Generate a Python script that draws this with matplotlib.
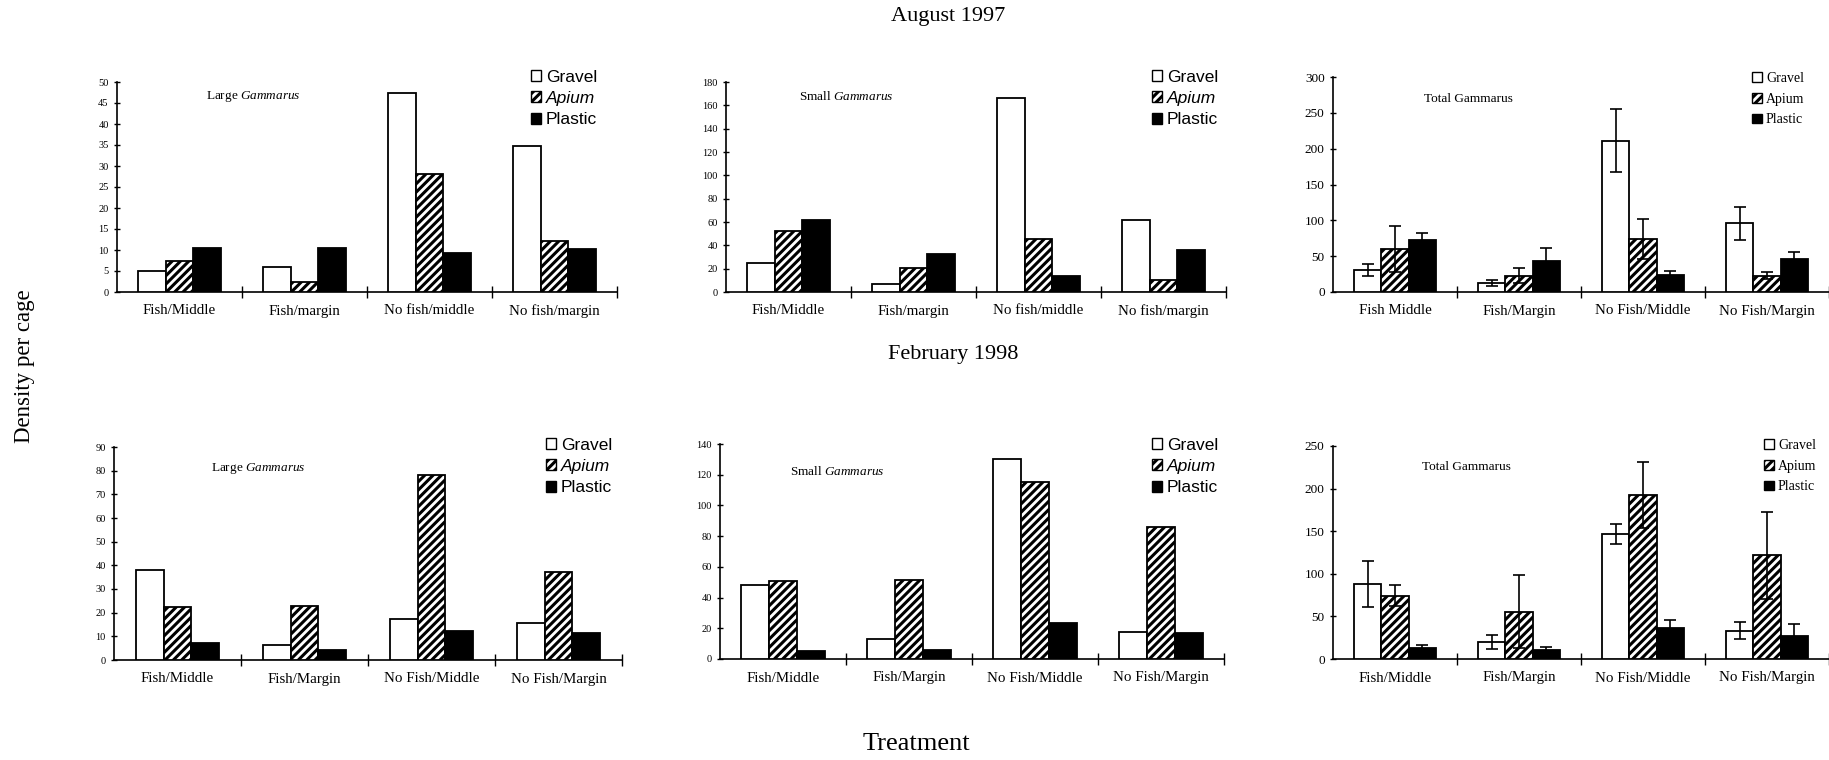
import matplotlib
matplotlib.use("Agg")
import matplotlib.pyplot as plt
from matplotlib.patches import Patch
import numpy as np

plt.rcParams['font.family'] = ['Liberation Serif', 'DejaVu Serif']
plt.rcParams['mathtext.fontset'] = 'custom'
plt.rcParams['mathtext.rm'] = 'Liberation Serif'
plt.rcParams['mathtext.it'] = 'Liberation Serif:italic'
plt.rcParams['hatch.linewidth'] = 2.2

# ---------------- data ----------------
series = ["Gravel", "Apium", "Plastic"]

cats_aug_lm = ["Fish/Middle", "Fish/margin", "No fish/middle", "No fish/margin"]
cats_aug_total = ["Fish Middle", "Fish/Margin", "No Fish/Middle", "No Fish/Margin"]
cats_feb = ["Fish/Middle", "Fish/Margin", "No Fish/Middle", "No Fish/Margin"]

# August 1997 - Large Gammarus
aug_large_gravel = [5.0, 6.0, 47.5, 34.7]
aug_large_apium = [7.5, 2.5, 28.0, 12.2]
aug_large_plastic = [10.5, 10.5, 9.2, 10.2]

# August 1997 - Small Gammarus
aug_small_gravel = [25, 6.5, 166, 61.5]
aug_small_apium = [52, 21, 45.5, 10.5]
aug_small_plastic = [61.5, 32.5, 13.5, 36]

# August 1997 - Total Gammarus (mean, error)
aug_total_gravel = [30.5, 13, 211, 96]
aug_total_apium = [60, 23, 74, 22.5]
aug_total_plastic = [72, 43, 23.5, 45.5]
aug_total_gravel_err = [8.5, 4, 44, 23]
aug_total_apium_err = [32, 10, 28, 5]
aug_total_plastic_err = [11, 19, 6, 10.5]

# February 1998 - Large Gammarus
feb_large_gravel = [38, 6.3, 17.3, 15.7]
feb_large_apium = [22.5, 22.8, 78, 37]
feb_large_plastic = [7.0, 4.2, 12.3, 11.2]

# February 1998 - Small Gammarus
feb_small_gravel = [48.5, 13, 130, 17.5]
feb_small_apium = [51, 51.5, 115, 86]
feb_small_plastic = [5.5, 5.8, 23.5, 17]

# February 1998 - Total Gammarus (mean, error)
feb_total_gravel = [88, 20, 147, 33]
feb_total_apium = [74.5, 55.5, 192.5, 121.5]
feb_total_plastic = [13, 10, 36, 26.5]
feb_total_gravel_err = [26.5, 8, 12, 10]
feb_total_apium_err = [12, 43, 39, 51]
feb_total_plastic_err = [3.5, 4.5, 9.5, 15]

# ---------------- figure ----------------
W, H = 1829, 760
fig = plt.figure(figsize=(W / 100, H / 100), dpi=100)


def add_ax(left, right, top, bottom):
    return fig.add_axes([left / W, 1 - bottom / H, (right - left) / W, (bottom - top) / H])


def panel(ax, cats, vals, errs, ymax, ystep, title, title_xy, legend_xy, total):
    x = np.arange(len(cats))
    bw = 0.22
    styles = [dict(facecolor='white', hatch=None),
              dict(facecolor='white', hatch='////'),
              dict(facecolor='black', hatch=None)]
    for i, (v, st) in enumerate(zip(vals, styles)):
        kw = dict(edgecolor='black', linewidth=1.3, zorder=3, **st)
        ax.bar(x + (i - 1) * bw, v, bw, **kw)
        if errs is not None:
            ax.errorbar(x + (i - 1) * bw, v, yerr=errs[i], fmt='none',
                        ecolor='black', elinewidth=1.2, capsize=4, capthick=1.2, zorder=4)
    ax.set_xlim(-0.5, 3.5)
    ax.set_ylim(0, ymax)
    ax.set_yticks(np.arange(0, ymax + 0.1, ystep))
    ax.set_xticks([0.5, 1.5, 2.5, 3.5])
    ax.set_xticklabels([])
    ax.set_xticks(x, minor=True)
    ax.set_xticklabels(cats, minor=True, fontsize=10.8)
    ax.tick_params(axis='x', which='major', direction='inout', length=9, width=1)
    ax.tick_params(axis='x', which='minor', length=0, pad=9)
    ax.tick_params(axis='y', direction='inout', length=5, width=1,
                   labelsize=9.5 if total else 7.5)
    for s in ['top', 'right']:
        ax.spines[s].set_visible(False)
    for s in ['left', 'bottom']:
        ax.spines[s].set_linewidth(1.2)
    ax.text(title_xy[0], title_xy[1], title, transform=ax.transAxes,
            fontsize=9.5, ha='left', va='center')

    handles = [Patch(facecolor='white', edgecolor='black', linewidth=1.0),
               Patch(facecolor='white', edgecolor='black', hatch='////', linewidth=1.0),
               Patch(facecolor='black', edgecolor='black', linewidth=1.0)]
    if total:
        leg = ax.legend(handles, series, loc='upper left',
                        bbox_to_anchor=(legend_xy[0] / W, 1 - legend_xy[1] / H),
                        bbox_transform=fig.transFigure, frameon=False,
                        prop={'family': 'Liberation Serif', 'size': 10},
                        handlelength=0.7, handleheight=0.7, handletextpad=0.3,
                        labelspacing=0.55, borderpad=0, borderaxespad=0)
    else:
        leg = ax.legend(handles, series, loc='upper left',
                        bbox_to_anchor=(legend_xy[0] / W, 1 - legend_xy[1] / H),
                        bbox_transform=fig.transFigure, frameon=False,
                        prop={'family': 'Liberation Sans', 'size': 12.5},
                        handlelength=0.6, handleheight=0.6, handletextpad=0.25,
                        labelspacing=0.35, borderpad=0, borderaxespad=0)
        leg.get_texts()[1].set_style('italic')


# top row
ax1 = add_ax(117, 617, 82, 292)
panel(ax1, cats_aug_lm, [aug_large_gravel, aug_large_apium, aug_large_plastic], None,
      50, 5, r'Large $\mathit{Gammarus}$', (0.178, 0.93), (531, 70), False)

ax2 = add_ax(726, 1226, 82, 292)
panel(ax2, cats_aug_lm, [aug_small_gravel, aug_small_apium, aug_small_plastic], None,
      180, 20, r'Small $\mathit{Gammarus}$', (0.146, 0.93), (1152, 70), False)

ax3 = add_ax(1333, 1829, 77, 292)
panel(ax3, cats_aug_total, [aug_total_gravel, aug_total_apium, aug_total_plastic],
      [aug_total_gravel_err, aug_total_apium_err, aug_total_plastic_err],
      300, 50, 'Total Gammarus', (0.183, 0.90), (1752, 72), True)

# bottom row
ax4 = add_ax(114, 622, 447, 660)
panel(ax4, cats_feb, [feb_large_gravel, feb_large_apium, feb_large_plastic], None,
      90, 10, r'Large $\mathit{Gammarus}$', (0.19, 0.897), (546, 438), False)

ax5 = add_ax(720, 1224, 444, 659)
panel(ax5, cats_feb, [feb_small_gravel, feb_small_apium, feb_small_plastic], None,
      140, 20, r'Small $\mathit{Gammarus}$', (0.139, 0.874), (1152, 438), False)

ax6 = add_ax(1333, 1829, 446, 659)
panel(ax6, cats_feb, [feb_total_gravel, feb_total_apium, feb_total_plastic],
      [feb_total_gravel_err, feb_total_apium_err, feb_total_plastic_err],
      250, 50, 'Total Gammarus', (0.18, 0.90), (1764, 439), True)

fig.text(948 / W, 1 - 17 / H, 'August 1997', ha='center', va='center', fontsize=16)
fig.text(953 / W, 1 - 354 / H, 'February 1998', ha='center', va='center', fontsize=16)
fig.text(25 / W, 1 - 366 / H, 'Density per cage', ha='center', va='center',
         rotation=90, fontsize=16.5)
fig.text(916 / W, 1 - 744 / H, 'Treatment', ha='center', va='center', fontsize=19)

fig.savefig('out.png', dpi=100)
